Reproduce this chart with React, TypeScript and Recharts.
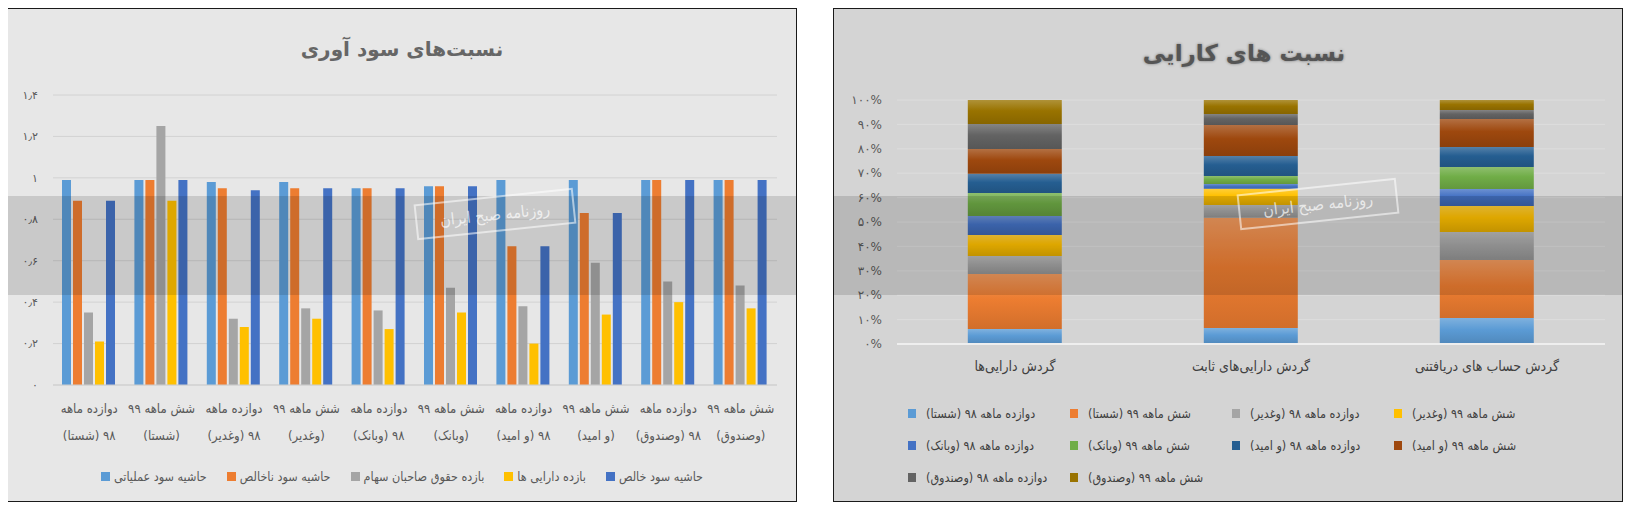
import React from 'react';
import { BarChart, Bar, XAxis, YAxis, CartesianGrid, Legend } from 'recharts';

const FONT = '"DejaVu Sans", sans-serif';
const NARROW = '"DejaVu Sans Condensed", "DejaVu Sans", sans-serif';
const faDigits = '۰۱۲۳۴۵۶۷۸۹';
const toFa = (v: string | number) =>
  String(v).replace(/\d/g, (d) => faDigits[Number(d)]).replace('.', '٫');

// ---- profitability ratios (left chart)
const profitCats = [
  ['دوازده ماهه', '۹۸ (شستا)'],
  ['شش ماهه ۹۹', '(شستا)'],
  ['دوازده ماهه', '۹۸ (وغدیر)'],
  ['شش ماهه ۹۹', '(وغدیر)'],
  ['دوازده ماهه', '۹۸ (وبانک)'],
  ['شش ماهه ۹۹', '(وبانک)'],
  ['دوازده ماهه', '۹۸ (و امید)'],
  ['شش ماهه ۹۹', '(و امید)'],
  ['دوازده ماهه', '۹۸ (وصندوق)'],
  ['شش ماهه ۹۹', '(وصندوق)'],
];
const operatingMargin = [0.99, 0.99, 0.98, 0.98, 0.95, 0.96, 0.99, 0.99, 0.99, 0.99];
const grossMargin = [0.89, 0.99, 0.95, 0.95, 0.95, 0.96, 0.67, 0.83, 0.99, 0.99];
const returnOnEquity = [0.35, 1.25, 0.32, 0.37, 0.36, 0.47, 0.38, 0.59, 0.5, 0.48];
const returnOnAssets = [0.21, 0.89, 0.28, 0.32, 0.27, 0.35, 0.2, 0.34, 0.4, 0.37];
const netMargin = [0.89, 0.99, 0.94, 0.95, 0.95, 0.96, 0.67, 0.83, 0.99, 0.99];
const profitTicks = [0, 0.2, 0.4, 0.6, 0.8, 1, 1.2, 1.4];

const profitSeries = [
  { key: 'op', name: 'حاشیه سود عملیاتی', values: operatingMargin },
  { key: 'gross', name: 'حاشیه سود ناخالص', values: grossMargin },
  { key: 'roe', name: 'بازده حقوق صاحبان سهام', values: returnOnEquity },
  { key: 'roa', name: 'بازده دارایی ها', values: returnOnAssets },
  { key: 'net', name: 'حاشیه سود خالص', values: netMargin },
];
const profitColors = ['#5B9BD5', '#ED7D31', '#A5A5A5', '#FFC000', '#4472C4'];

const profitData = profitCats.map((lines, i) => {
  const row: Record<string, any> = { name: lines.join(' ') };
  profitSeries.forEach((s) => (row[s.key] = s.values[i]));
  return row;
});

// ---- efficiency ratios (right chart, 100% stacked)
const effCats = ['گردش دارایی‌ها', 'گردش دارایی‌های ثابت', 'گردش حساب های دریافتنی'];
const shasta98 = [6.1, 6.6, 10.7];
const shasta99 = [22.5, 45.1, 23.8];
const ghadir98 = [7.4, 5.3, 11.5];
const ghadir99 = [8.6, 6.6, 10.7];
const bank98 = [7.8, 2.0, 7.0];
const bank99 = [9.4, 3.3, 9.0];
const omid98 = [7.8, 8.2, 8.2];
const omid99 = [10.2, 12.7, 11.5];
const sandogh98 = [10.2, 4.5, 3.7];
const sandogh99 = [9.8, 5.7, 4.1];
const effTicks = [0, 0.1, 0.2, 0.3, 0.4, 0.5, 0.6, 0.7, 0.8, 0.9, 1];

const effSeries = [
  { key: 's98', name: 'دوازده ماهه ۹۸ (شستا)', values: shasta98 },
  { key: 's99', name: 'شش ماهه ۹۹ (شستا)', values: shasta99 },
  { key: 'g98', name: 'دوازده ماهه ۹۸ (وغدیر)', values: ghadir98 },
  { key: 'g99', name: 'شش ماهه ۹۹ (وغدیر)', values: ghadir99 },
  { key: 'b98', name: 'دوازده ماهه ۹۸ (وبانک)', values: bank98 },
  { key: 'b99', name: 'شش ماهه ۹۹ (وبانک)', values: bank99 },
  { key: 'o98', name: 'دوازده ماهه ۹۸ (و امید)', values: omid98 },
  { key: 'o99', name: 'شش ماهه ۹۹ (و امید)', values: omid99 },
  { key: 'f98', name: 'دوازده ماهه ۹۸ (وصندوق)', values: sandogh98 },
  { key: 'f99', name: 'شش ماهه ۹۹ (وصندوق)', values: sandogh99 },
];
const effColors = ['#5B9BD5', '#ED7D31', '#A5A5A5', '#FFC000', '#4472C4', '#70AD47', '#255E91', '#9E480E', '#636363', '#997300'];

const effData = effCats.map((name, i) => {
  const row: Record<string, any> = { name };
  effSeries.forEach((s) => (row[s.key] = s.values[i]));
  return row;
});

// shade a hex colour toward white (amt > 0) or black (amt < 0)
const shade = (hex: string, amt: number) => {
  const n = parseInt(hex.slice(1), 16);
  const ch = [(n >> 16) & 255, (n >> 8) & 255, n & 255].map((c) =>
    Math.round(amt > 0 ? c + (255 - c) * amt : c * (1 + amt))
  );
  return `rgb(${ch.join(',')})`;
};

const ProfitTick = (props: any) => {
  const { x, y, payload } = props;
  const lines = profitCats[payload.index] || [payload.value, ''];
  return (
    <g transform={`translate(${x},${y})`}>
      <text x={0} y={28} direction="rtl" textAnchor="middle" fill="#595959" fontSize={13} fontFamily={NARROW}>{lines[0]}</text>
      <text x={0} y={55} direction="rtl" textAnchor="middle" fill="#595959" fontSize={13} fontFamily={NARROW}>{lines[1]}</text>
    </g>
  );
};

const ProfitLegend = () => (
  <div style={{ display: 'flex', justifyContent: 'center', alignItems: 'center', gap: 20, height: 30, fontFamily: NARROW, fontSize: 12.5, color: '#595959' }}>
    {profitSeries.map((s, i) => (
      <div key={s.key} style={{ display: 'flex', alignItems: 'center', gap: 4, whiteSpace: 'nowrap' }}>
        <span style={{ width: 9, height: 9, background: profitColors[i], display: 'inline-block', flex: 'none' }} />
        <span dir="rtl">{s.name}</span>
      </div>
    ))}
  </div>
);

const EffLegend = () => (
  <div style={{ display: 'grid', gridTemplateColumns: 'repeat(4, 162px)', gridAutoRows: '32px', marginLeft: 74, alignItems: 'center', fontFamily: NARROW, fontSize: 12.5, color: '#404040' }}>
    {effSeries.map((s, i) => (
      <div key={s.key} style={{ display: 'flex', alignItems: 'center', gap: 10, whiteSpace: 'nowrap' }}>
        <span style={{ width: 8, height: 9, background: effColors[i], display: 'inline-block', flex: 'none' }} />
        <span dir="rtl">{s.name}</span>
      </div>
    ))}
  </div>
);

const Band = () => (
  <div style={{ position: 'absolute', left: 0, top: 187, width: 788, height: 99, background: 'rgba(0,0,0,0.13)', pointerEvents: 'none' }} />
);

const Stamp = ({ left, top }: { left: number; top: number }) => (
  <div dir="rtl" style={{ position: 'absolute', left, top, width: 156, height: 32, border: '2px solid rgba(255,255,255,0.55)', color: 'rgba(255,255,255,0.7)', fontFamily: NARROW, fontSize: 16, display: 'flex', alignItems: 'center', justifyContent: 'center', transform: 'rotate(-6deg)', pointerEvents: 'none' }}>
    روزنامه صبح ایران
  </div>
);

const panelStyle: React.CSSProperties = {
  position: 'absolute',
  top: 0,
  width: 788,
  height: 492,
  border: '1px solid #1a1a1a',
  overflow: 'hidden',
};

export default function App() {
  return (
    <div style={{ position: 'relative', width: 1626, height: 496, marginLeft: -1 }}>
      {/* left panel */}
      <div style={{ ...panelStyle, left: 0, background: '#e7e7e7' }}>
        <div dir="rtl" style={{ position: 'absolute', left: 0, top: 28, width: 788, textAlign: 'center', fontFamily: FONT, fontWeight: 'bold', fontSize: 20, color: '#666666' }}>
          نسبت‌های سود آوری
        </div>
        <BarChart width={788} height={492} data={profitData} margin={{ top: 86, right: 19, left: 0, bottom: 10 }} barCategoryGap={9} barGap={2}>
          <CartesianGrid vertical={false} stroke="#d2d2d2" />
          <XAxis dataKey="name" tick={<ProfitTick />} tickLine={false} axisLine={{ stroke: '#cfcfcf' }} tickSize={0} tickMargin={0} height={76} interval={0} />
          <YAxis domain={[0, 1.4]} ticks={profitTicks} tickFormatter={(v: number) => toFa(v)} width={45} tickLine={false} axisLine={false} tickSize={0} tickMargin={15} tick={{ fill: '#595959', fontSize: 11, fontFamily: FONT }} />
          <Legend verticalAlign="bottom" content={<ProfitLegend />} wrapperStyle={{ left: 0, width: 788 }} />
          {profitSeries.map((s, i) => (
            <Bar key={s.key} dataKey={s.key} name={s.name} fill={profitColors[i]} isAnimationActive={false} />
          ))}
        </BarChart>
        <Band />
        <Stamp left={407} top={187} />
      </div>

      {/* right panel */}
      <div style={{ ...panelStyle, left: 826, background: '#d4d4d4' }}>
        <div dir="rtl" style={{ position: 'absolute', left: 16, top: 31, width: 788, textAlign: 'center', fontFamily: FONT, fontWeight: 'bold', fontSize: 23, color: '#555555', textShadow: '0 0 3px rgba(0,0,0,0.45)' }}>
          نسبت های کارایی
        </div>
        <BarChart width={788} height={492} data={effData} stackOffset="expand" margin={{ top: 91, right: 17, left: 0, bottom: 8 }} barCategoryGap="30%">
          <defs>
            {effColors.map((c, i) => (
              <linearGradient key={i} id={`effg${i}`} x1="0" y1="0" x2="0" y2="1">
                <stop offset="0%" stopColor={shade(c, 0.22)} />
                <stop offset="45%" stopColor={c} />
                <stop offset="100%" stopColor={shade(c, -0.12)} />
              </linearGradient>
            ))}
          </defs>
          <CartesianGrid vertical={false} stroke="#dddddd" />
          <XAxis dataKey="name" tickLine={false} axisLine={{ stroke: '#eeeeee', strokeWidth: 2 }} tickSize={0} tickMargin={17} height={53} interval={0} tick={{ fill: '#404040', fontSize: 14, fontFamily: NARROW }} />
          <YAxis domain={[0, 1]} ticks={effTicks} tickFormatter={(v: number) => toFa(Math.round(v * 100)) + '%'} width={63} tickLine={false} axisLine={false} tickSize={0} tickMargin={15} tick={{ fill: '#595959', fontSize: 12, fontFamily: FONT }} />
          <Legend verticalAlign="bottom" content={<EffLegend />} wrapperStyle={{ left: 0, width: 788 }} />
          {effSeries.map((s, i) => (
            <Bar key={s.key} dataKey={s.key} name={s.name} stackId="eff" fill={`url(#effg${i})`} isAnimationActive={false} />
          ))}
        </BarChart>
        <Band />
        <Stamp left={404} top={177} />
      </div>
    </div>
  );
}
